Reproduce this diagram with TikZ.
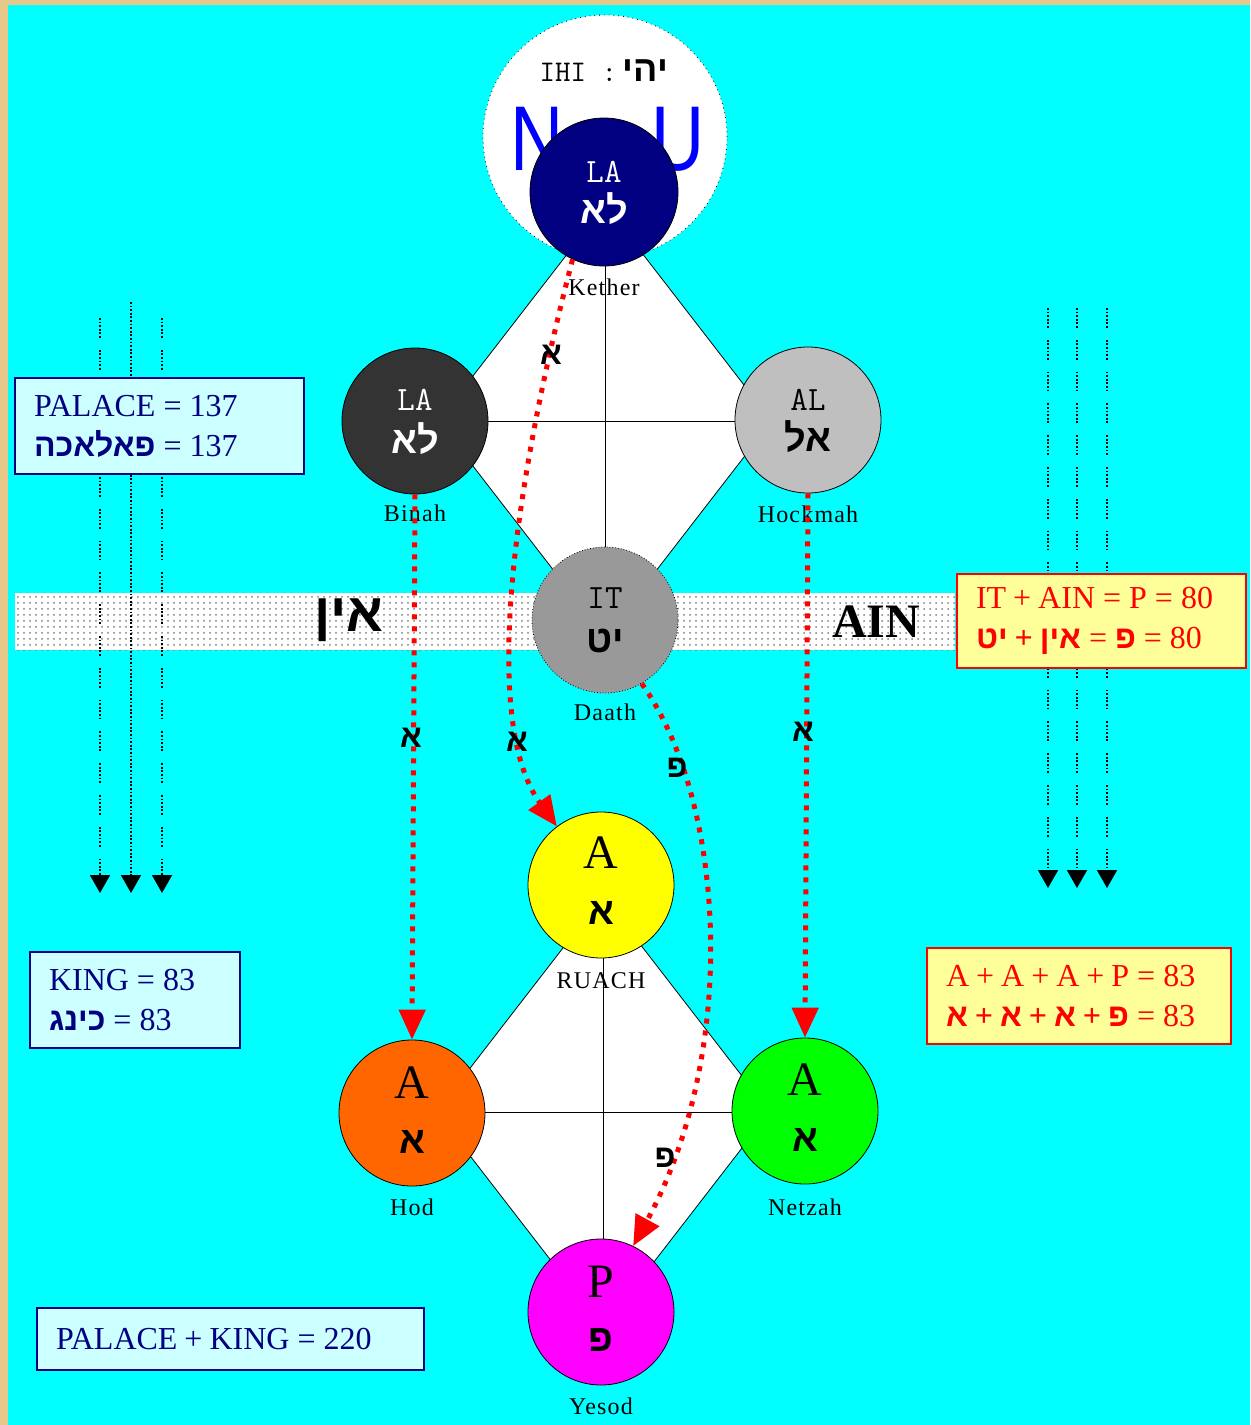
\documentclass[tikz,border=0pt]{standalone}
\usepackage{fontspec}
\setmainfont{Liberation Serif}
\newfontfamily\namefont[LetterSpace=5]{Liberation Serif}
\newfontfamily\bigsans{Liberation Sans}
\newfontfamily\hfont[Script=Hebrew]{Liberation Sans}
\TeXXeTstate=1
\newcommand\hebw[1]{{\hfont\bfseries\beginR #1\endR}}
\newcommand\eq{\hspace{4pt}=\hspace{4pt}}
\newcommand\pl{\hspace{3.5pt}+\hspace{3.5pt}}
\newcommand\bpl{\hspace{3.5pt}{\bfseries +}\hspace{3.5pt}}
\usetikzlibrary{positioning}
\usetikzlibrary{shapes.geometric}
\usetikzlibrary{arrows.meta}
\usetikzlibrary{patterns}

\definecolor{parch}{HTML}{E6C98A}
\definecolor{sky}{HTML}{00FFFF}
\definecolor{navy}{HTML}{000080}
\definecolor{paleblue}{HTML}{CCFFFF}
\definecolor{paleyellow}{HTML}{FFFF99}
\definecolor{arrowred}{HTML}{FF0000}
\definecolor{orangehod}{HTML}{FF6600}
\definecolor{yellowruach}{HTML}{FFFF00}
\definecolor{greennetzah}{HTML}{00FF00}
\definecolor{pinkyesod}{HTML}{FF00FF}
\definecolor{blueletter}{HTML}{0000FF}

\begin{document}
\begin{tikzpicture}
[x=0.5pt, y=-0.5pt,
 sefira/.style={shape=circle,draw,thin,inner sep=0pt,minimum size=73pt},
 treediamond/.style={shape=diamond,draw,thin,fill=white,inner sep=0pt,
   minimum width=167pt,minimum height=216pt},
 latin/.style={inner sep=0pt,font=\ttfamily\fontsize{17}{17}\selectfont},
 capital/.style={inner sep=0pt,font=\fontsize{24}{24}\selectfont},
 heb/.style={inner sep=0pt,font=\fontsize{19}{19}\selectfont},
 namelbl/.style={inner sep=1pt,font=\namefont\fontsize{12}{12}\selectfont},
 hebmark/.style={inner sep=0pt,font=\fontsize{16}{16}\selectfont},
 flow/.style={draw=arrowred,line width=2.5pt,dash pattern=on 2.5pt off 3.5pt,
   -{Triangle[length=15pt,width=13pt]}},
 fall/.style={line width=0.9pt,-{Triangle[length=9pt,width=10pt]}},
 dotrun/.style={dash pattern=on 0.9pt off 0.9pt on 0.9pt off 0.9pt on 0.9pt off 0.9pt
   on 0.9pt off 0.9pt on 0.9pt off 0.9pt on 0.9pt off 6pt},
 dotline/.style={dash pattern=on 0.9pt off 0.9pt},
 bluebox/.style={shape=rectangle,draw=navy,line width=1pt,fill=paleblue,text=navy,
   align=left,anchor=north west,inner xsep=9.5pt,inner ysep=0pt,
   font=\fontsize{16}{20}\selectfont},
 redbox/.style={bluebox,draw=arrowred,fill=paleyellow,text=arrowred}]

\useasboundingbox (0,0) rectangle (1250,1425);
\fill[parch] (0,0) rectangle (1250,1425);
\fill[sky] (8,5) rectangle (1250,1425);

\fill[white] (15,593) rectangle (955,650);
\fill[pattern=dots,pattern color=gray] (15,593) rectangle (955,650);
\node (ainheb) [inner sep=0pt,font=\fontsize{27}{27}\selectfont] at (349,620) {\hebw{אין}};
\node (ainlat) [inner sep=0pt,font=\bfseries\fontsize{24}{24}\selectfont] at (876,622) {AIN};

\node (upper) [treediamond] at (605,421) {};
\node (lower) [treediamond] at (603,1112) {};
\draw (upper.west) -- (upper.east);
\draw (upper.north) -- (upper.south);
\draw (lower.west) -- (lower.east);
\draw (lower.north) -- (lower.south);

\node (crown) [sefira,dotted,fill=white,minimum size=122pt] at (605,137) {};
\node (ihi) [inner sep=0pt,font=\fontsize{18}{18}\selectfont] at (604,71)
  {{\ttfamily\fontsize{15}{15}\selectfont IHI :}\,\hebw{יהי}};
\node (nun) [inner sep=0pt,text=blueletter,font=\bigsans\fontsize{46}{46}\selectfont]
  at (537,139) {\scalebox{0.8}[1]{N}};
\node (vav) [inner sep=0pt,text=blueletter,font=\bigsans\fontsize{46}{46}\selectfont]
  at (678,139) {\scalebox{0.8}[1]{U}};

\node (kether) [sefira,fill=navy,minimum size=74pt] at (604,192) {};
\node (binah) [sefira,fill=black!80] at (415,421) {};
\node (hockmah) [sefira,fill=black!25] at (808,420) {};
\node (daath) [sefira,densely dotted,fill=black!40] at (605,620) {};
\node (ruach) [sefira,fill=yellowruach] at (601,885) {};
\node (hod) [sefira,fill=orangehod] at (412,1113) {};
\node (netzah) [sefira,fill=greennetzah] at (805,1111) {};
\node (yesod) [sefira,fill=pinkyesod] at (601,1312) {};

\node (ketherlat) [latin,white] at ([yshift=10pt]kether.center) {LA};
\node (ketherheb) [heb,white] at ([yshift=-8.5pt]kether.center) {\hebw{לא}};
\node (binahlat) [latin,white] at ([yshift=10.5pt]binah.center) {LA};
\node (binahheb) [heb,white] at ([yshift=-9pt]binah.center) {\hebw{לא}};
\node (hockmahlat) [latin] at ([yshift=10pt]hockmah.center) {AL};
\node (hockmahheb) [heb] at ([yshift=-8.5pt]hockmah.center) {\hebw{אל}};
\node (daathlat) [latin] at ([yshift=11pt]daath.center) {IT};
\node (daathheb) [heb] at ([yshift=-10.5pt]daath.center) {\hebw{יט}};
\node (ruachlat) [capital] at ([yshift=16pt]ruach.center) {A};
\node (ruachheb) [heb] at ([yshift=-14pt]ruach.center) {\hebw{א}};
\node (hodlat) [capital] at ([yshift=15pt]hod.center) {A};
\node (hodheb) [heb] at ([yshift=-14.5pt]hod.center) {\hebw{א}};
\node (netzahlat) [capital] at ([yshift=15.5pt]netzah.center) {A};
\node (netzahheb) [heb] at ([yshift=-14.5pt]netzah.center) {\hebw{א}};
\node (yesodlat) [capital] at ([yshift=15pt]yesod.center) {P};
\node (yesodheb) [heb] at ([yshift=-14pt]yesod.center) {\hebw{פ}};

\node (ketherlbl) [namelbl,below=5pt of kether] {Kether};
\node (binahlbl) [namelbl,below=4pt of binah] {Binah};
\node (hockmahlbl) [namelbl,below=5pt of hockmah] {Hockmah};
\node (daathlbl) [namelbl,below=4pt of daath] {Daath};
\node (ruachlbl) [namelbl,below=6pt of ruach] {RUACH};
\node (hodlbl) [namelbl,below=5pt of hod] {Hod};
\node (netzahlbl) [namelbl,below=6pt of netzah] {Netzah};
\node (yesodlbl) [namelbl,below=5pt of yesod] {Yesod};

\draw[flow] (kether.245) .. controls (515,480) and (480,720) .. (ruach.127);
\draw[flow] (binah.south) -- (hod.north);
\draw[flow] (hockmah.south) -- (netzah.north);
\draw[flow] (daath.300) .. controls (725,800) and (740,1050) .. (yesod.64);
\node (ka) [hebmark] at (551,355) {\hebw{א}};
\node (kb) [hebmark] at (517,742) {\hebw{א}};
\node (ba) [hebmark] at (411,738) {\hebw{א}};
\node (ha) [hebmark] at (803,732) {\hebw{א}};
\node (da) [hebmark] at (677,768) {\hebw{פ}};
\node (db) [hebmark] at (665,1158) {\hebw{פ}};

\foreach \i/\x/\t/\b/\s in {1/100/318/893/dotrun,2/131/302/893/dotline,3/162/318/893/dotrun,
  4/1048/308/888/dotrun,5/1077/308/888/dotrun,6/1107/308/888/dotrun}
{
  \coordinate (top\i) at (\x,\t);
  \coordinate (end\i) at (\x,\b);
  \draw[fall,\s] (top\i) -- (end\i);
}

\node (palace) [bluebox,text width=125.5pt,minimum height=48pt] at (14,377)
  {PALACE\eq 137\\\hebw{פאלאכה}\eq 137};
\node (king) [bluebox,text width=86pt,minimum height=48pt] at (29,951)
  {KING\eq 83\\\hebw{כינג}\eq 83};
\node (total) [bluebox,text width=174.5pt,minimum height=31pt] at (36,1307)
  {PALACE\pl KING\eq 220};
\node (itain) [redbox,text width=125.5pt,minimum height=47pt] at (956,573)
  {IT\pl AIN\eq P\eq 80\\\hebw{יט}\bpl\hebw{אין}\eq\hebw{פ}\eq 80};
\node (alefs) [redbox,text width=133pt,minimum height=48pt] at (926,947)
  {A\pl A\pl A\pl P\eq 83\\\hebw{א}\bpl\hebw{א}\bpl\hebw{א}\bpl\hebw{פ}\eq 83};
\end{tikzpicture}
\end{document}
